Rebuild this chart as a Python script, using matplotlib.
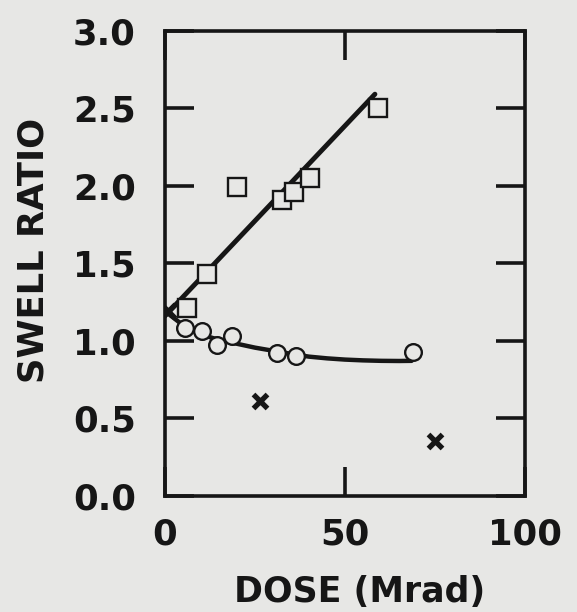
import matplotlib.pyplot as plt

# data
square_dose = [6.0, 11.6, 20.0, 32.5, 35.8, 40.3, 59.2]
square_swell = [1.21, 1.43, 1.99, 1.91, 1.96, 2.05, 2.50]

circle_dose = [5.6, 10.2, 14.4, 18.6, 31.0, 36.3, 68.9]
circle_swell = [1.08, 1.06, 0.97, 1.03, 0.92, 0.90, 0.93]

cross_dose = [0.8, 26.4, 75.0]
cross_swell = [1.19, 0.61, 0.35]

# fitted lines as drawn
sq_fit_dose = [0.0, 58.3]
sq_fit_swell = [1.16, 2.59]

circ_fit_dose = [0, 5, 10, 15, 20, 25, 30, 35, 40, 45, 50, 55, 60, 65, 68.5]
circ_fit_swell = [1.19, 1.10, 1.04, 1.005, 0.98, 0.955, 0.935, 0.915, 0.897,
                  0.886, 0.878, 0.873, 0.870, 0.869, 0.870]

bg = '#e7e7e5'
ink = '#161616'

plt.rcParams['font.family'] = ['DejaVu Sans']
plt.rcParams['font.weight'] = 'bold'

fig = plt.figure(figsize=(5.77, 6.12), dpi=100, facecolor=bg)
ax = fig.add_axes([0.286, 0.190, 0.624, 0.760], facecolor=bg)

ax.plot(sq_fit_dose, sq_fit_swell, color=ink, lw=3.5, solid_capstyle='round', zorder=2)
ax.plot(circ_fit_dose, circ_fit_swell, color=ink, lw=3.2, solid_capstyle='round', zorder=2)

ax.plot(square_dose, square_swell, ls='none', marker='s', ms=12.5, mfc=bg,
        mec=ink, mew=1.7, zorder=3)
ax.plot(circle_dose, circle_swell, ls='none', marker='o', ms=12, mfc=bg,
        mec=ink, mew=1.7, zorder=3)
ax.plot(cross_dose, cross_swell, ls='none', marker='x', ms=10, mec=ink,
        mew=3.8, zorder=4)

ax.set_xlim(0, 100)
ax.set_ylim(0, 3.0)
ax.set_xticks([0, 50, 100])
ax.set_yticks([0.0, 0.5, 1.0, 1.5, 2.0, 2.5, 3.0])
ax.set_yticklabels(['0.0', '0.5', '1.0', '1.5', '2.0', '2.5', '3.0'])

ax.tick_params(direction='in', length=21, width=2.6, color=ink,
               top=True, right=True, labelsize=25.5, labelcolor=ink)
ax.tick_params(axis='y', pad=21)
ax.tick_params(axis='x', pad=16)

for s in ax.spines.values():
    s.set_linewidth(2.6)
    s.set_color(ink)

ax.set_xlabel('DOSE (Mrad)', fontsize=25, fontweight='bold', color=ink)
ax.set_ylabel('SWELL RATIO', fontsize=25.5, fontweight='bold', color=ink)
ax.xaxis.set_label_coords(0.54, -0.17)
ax.yaxis.set_label_coords(-0.318, 0.527)

fig.savefig('out.png', dpi=100, facecolor=bg)
